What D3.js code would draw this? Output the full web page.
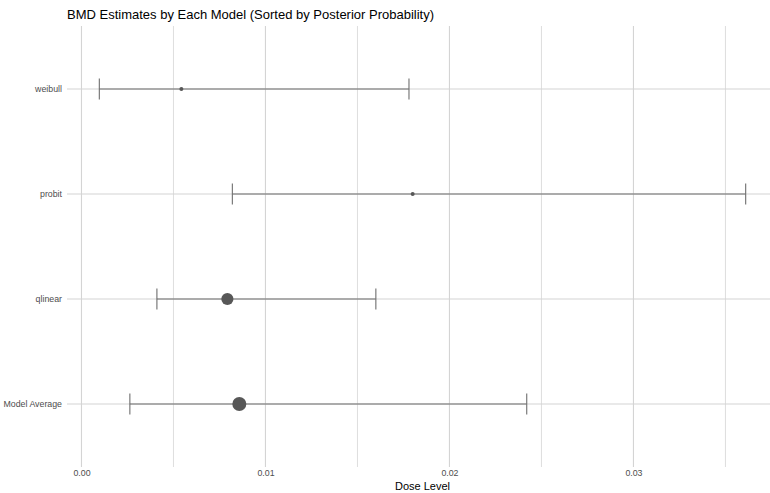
<!DOCTYPE html>
<html><head><meta charset="utf-8">
<script src="https://cdn.jsdelivr.net/npm/d3@7"></script>
<style>body{margin:0;background:#fff;overflow:hidden}svg{display:block}</style>
</head><body>
<script>
const models = ["weibull", "probit", "qlinear", "Model Average"];
const bmd    = [0.00543, 0.0180, 0.00793, 0.00858];
const lower  = [0.00097, 0.0082, 0.0041, 0.00263];
const upper  = [0.0178, 0.0361, 0.0160, 0.0242];
const prob   = [0.03, 0.03, 0.30, 0.40];
const xTicks = [0, 0.01, 0.02, 0.03];
const xTickLabels = ["0.00", "0.01", "0.02", "0.03"];
const xMinor = [0.005, 0.015, 0.025, 0.035];

const W = 770, H = 493;
const pl = 67, pr = 778, pt = 26, pb = 467;
const font = "'Liberation Sans', Arial, Helvetica, sans-serif";

const svg = d3.select("body").append("svg").attr("width", W).attr("height", H);

const lo = d3.min(lower), hi = d3.max(upper), pad = (hi - lo) * 0.05;
const x = d3.scaleLinear().domain([lo - pad, hi + pad]).range([pl, pr]);
const y = d3.scalePoint().domain(models).range([pt, pb]).padding(0.6);
const r = d3.scaleSqrt().domain([0, d3.max(prob)]).range([0, 7]);

// grid
svg.append("g").selectAll("line").data(xMinor).join("line")
  .attr("x1", d => x(d)).attr("x2", d => x(d)).attr("y1", pt).attr("y2", pb)
  .attr("stroke", "#dedede").attr("stroke-width", 1);
svg.append("g").selectAll("line").data(xTicks).join("line")
  .attr("x1", d => x(d)).attr("x2", d => x(d)).attr("y1", pt).attr("y2", pb)
  .attr("stroke", "#d4d4d4").attr("stroke-width", 1.1);
svg.append("g").selectAll("line").data(models).join("line")
  .attr("x1", pl).attr("x2", pr).attr("y1", d => y(d)).attr("y2", d => y(d))
  .attr("stroke", "#d4d4d4").attr("stroke-width", 1.1);

// x axis labels
const xAxis = d3.axisBottom(x).tickValues(xTicks).tickFormat((d, i) => xTickLabels[i]).tickSize(0).tickPadding(0);
const gx = svg.append("g").attr("transform", `translate(0,${pb + 3})`).call(xAxis);
gx.select(".domain").remove();
gx.selectAll("text").attr("font-family", font).attr("font-size", 8.8).attr("fill", "#4d4d4d").attr("dy", "0.71em");

// y axis labels
const yAxis = d3.axisLeft(y).tickSize(0).tickPadding(0);
const gy = svg.append("g").attr("transform", `translate(${pl - 5},0)`).call(yAxis);
gy.select(".domain").remove();
gy.selectAll("text").attr("font-family", font).attr("font-size", 8.8).attr("fill", "#4d4d4d");

// error bars
const rows = models.map((m, i) => ({m, b: bmd[i], l: lower[i], u: upper[i], p: prob[i]}));
const eb = svg.append("g");
eb.selectAll(".h").data(rows).join("line")
  .attr("x1", d => x(d.l)).attr("x2", d => x(d.u)).attr("y1", d => y(d.m)).attr("y2", d => y(d.m))
  .attr("stroke", "#6e6e6e").attr("stroke-width", 1.1);
["l", "u"].forEach(k => {
  eb.selectAll(".c" + k).data(rows).join("line")
    .attr("x1", d => x(d[k])).attr("x2", d => x(d[k])).attr("y1", d => y(d.m) - 10.5).attr("y2", d => y(d.m) + 10.5)
    .attr("stroke", "#6e6e6e").attr("stroke-width", 1.1);
});
svg.append("g").selectAll("circle").data(rows).join("circle")
  .attr("cx", d => x(d.b)).attr("cy", d => y(d.m)).attr("r", d => Math.max(2, r(d.p)))
  .attr("fill", "#575757");

// titles
svg.append("text").attr("x", pl).attr("y", 19).attr("font-family", font).attr("font-size", 13)
  .attr("fill", "#000").text("BMD Estimates by Each Model (Sorted by Posterior Probability)");
svg.append("text").attr("x", (pl + pr) / 2).attr("y", 490).attr("text-anchor", "middle")
  .attr("font-family", font).attr("font-size", 11).attr("fill", "#000").text("Dose Level");
</script>
</body></html>
